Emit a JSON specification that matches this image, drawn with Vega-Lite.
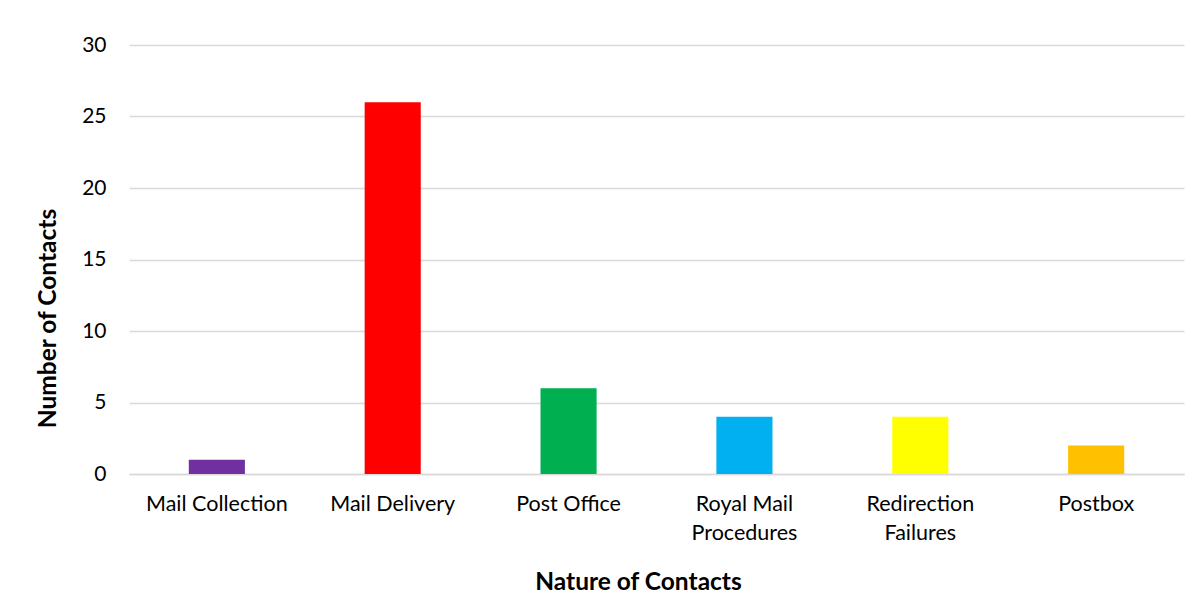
{
  "$schema": "https://vega.github.io/schema/vega-lite/v6.json",
  "autosize": "none",
  "width": 1055,
  "height": 429,
  "padding": {"left": 129, "top": 45, "right": 16, "bottom": 140},
  "background": "white",
  "data": {
    "values": [
      {"nature": "Mail Collection", "contacts": 1, "color": "#7030A0"},
      {"nature": "Mail Delivery", "contacts": 26, "color": "#FF0000"},
      {"nature": "Post Office", "contacts": 6, "color": "#00B050"},
      {"nature": "Royal Mail Procedures", "contacts": 4, "color": "#00B0F0"},
      {"nature": "Redirection Failures", "contacts": 4, "color": "#FFFF00"},
      {"nature": "Postbox", "contacts": 2, "color": "#FFC000"}
    ]
  },
  "mark": {"type": "bar"},
  "encoding": {
    "x": {
      "field": "nature",
      "type": "nominal",
      "sort": null,
      "scale": {"paddingInner": 0.681, "paddingOuter": 0.34},
      "axis": {
        "title": "Nature of Contacts",
        "labelAngle": 0,
        "labelFont": "Lato",
        "labelFontSize": 21.5,
        "labelColor": "#000000",
        "labelPadding": 19,
        "labelLineHeight": 29,
        "labelExpr": "datum.value == 'Royal Mail Procedures' ? ['Royal Mail', 'Procedures'] : datum.value == 'Redirection Failures' ? ['Redirection', 'Failures'] : datum.value",
        "ticks": false,
        "domain": true,
        "domainColor": "#d9d9d9",
        "domainWidth": 1.3,
        "titleFont": "Lato",
        "titleFontSize": 24.5,
        "titleFontWeight": "bold",
        "titleColor": "#000000",
        "titlePadding": 27,
        "titleX": 509
      }
    },
    "y": {
      "field": "contacts",
      "type": "quantitative",
      "scale": {"domain": [0, 30]},
      "axis": {
        "title": "Number of Contacts",
        "values": [0, 5, 10, 15, 20, 25, 30],
        "labelFont": "Lato",
        "labelFontSize": 21,
        "labelColor": "#000000",
        "labelPadding": 23,
        "ticks": false,
        "domain": false,
        "grid": true,
        "gridColor": "#d9d9d9",
        "gridWidth": 1.3,
        "titleFont": "Lato",
        "titleFontSize": 24.5,
        "titleFontWeight": "bold",
        "titleColor": "#000000",
        "titlePadding": 21,
        "titleY": 273
      }
    },
    "color": {"field": "color", "type": "nominal", "scale": null, "legend": null}
  },
  "config": {"view": {"stroke": null}}
}
